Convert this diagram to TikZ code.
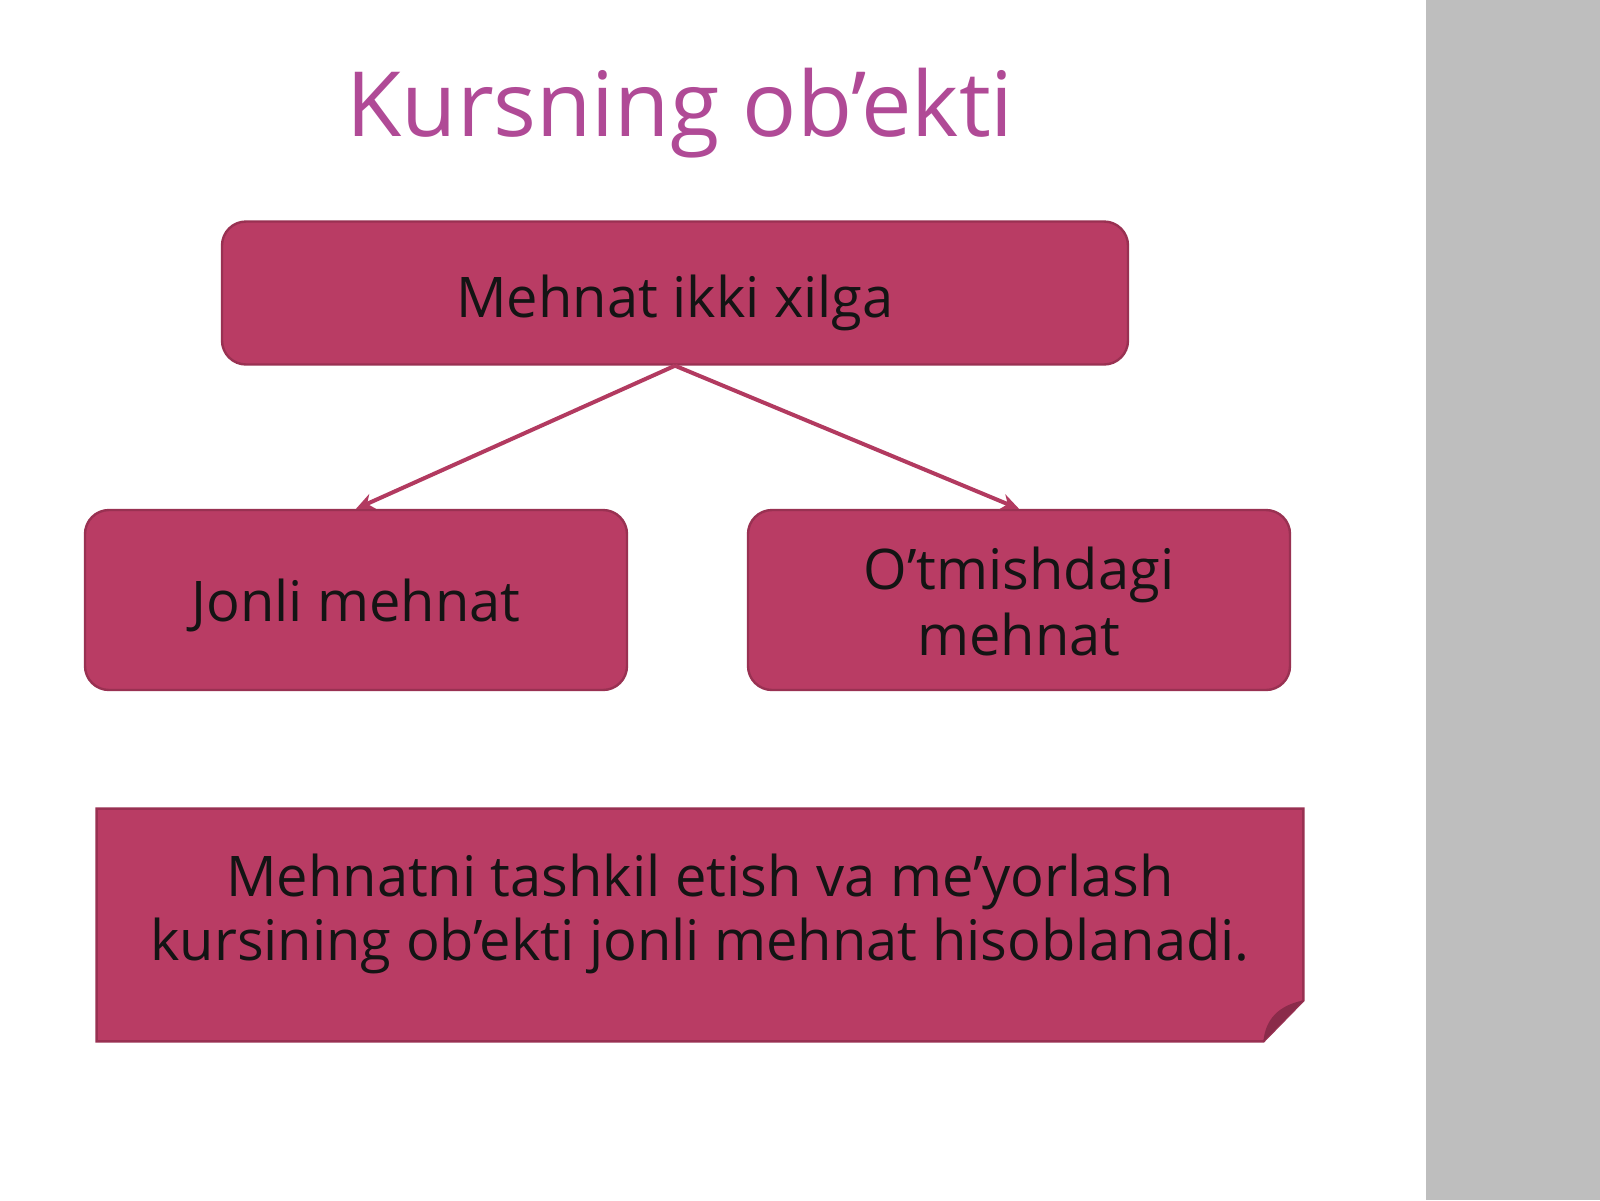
\documentclass[tikz,border=0pt]{standalone}
\usepackage{fontspec}
\setmainfont{Open Sans}
\usetikzlibrary{arrows.meta,calc}
\definecolor{boxfill}{HTML}{B93C64}
\definecolor{boxedge}{HTML}{993152}
\definecolor{flapc}{HTML}{8A2B4A}
\definecolor{titlec}{HTML}{B04A96}
\definecolor{band}{HTML}{BEBEBE}
\definecolor{arrowc}{HTML}{B23A60}
\definecolor{txt}{HTML}{141414}
\tikzset{
  rbox/.style={rectangle, rounded corners=12pt, fill=boxfill, draw=boxedge, line width=1.2pt},
  lbl/.style={text=txt, align=center, font=\fontsize{28}{33}\selectfont},
  link/.style={draw=arrowc, line width=2pt, -{Stealth[length=9pt,width=8pt]}},
}
\begin{document}
\begin{tikzpicture}[x=0.5pt,y=-0.5pt]
\useasboundingbox (0,0) rectangle (1600,1200);
\fill[white] (0,0) rectangle (1600,1200);
\fill[band] (1426,0) rectangle (1600,1200);

\node[anchor=base, text=titlec, font=\fontsize{45}{50}\selectfont] (title) at (680,136) {Kursning ob’ekti};

\node[rbox, minimum width=453pt, minimum height=71.5pt] (top) at (675,293) {};
\node[rbox, minimum width=271pt, minimum height=90pt] (left) at (356,600) {};
\node[rbox, minimum width=271pt, minimum height=90pt] (right) at (1019,600) {};
\node[lbl] (toptext) at ($(top.center)+(0,10)$) {Mehnat ikki xilga};
\node[lbl] (lefttext) at ($(left.center)+(0,5)$) {Jonli mehnat};
\node[lbl] (righttext) at ($(right.center)+(0,1)$) {O’tmishdagi\\mehnat};

\draw[link] (top.south) -- (left.north);
\draw[link] (top.south) -- (right.north);

\node[minimum width=603pt, minimum height=116pt, inner sep=0pt] (note) at (700,925) {};
\fill[boxfill, draw=boxedge, line width=1.2pt]
  (note.north west) -- (note.north east) -- ($(note.south east)+(0,-41)$)
  -- ($(note.south east)+(-40,0)$) -- (note.south west) -- cycle;
\fill[flapc] ($(note.south east)+(-40,0)$) .. controls ($(note.south east)+(-38,-22)$) and ($(note.south east)+(-25,-36)$) .. ($(note.south east)+(0,-41)$) -- cycle;
\node[lbl, font=\fontsize{28}{32}\selectfont] (notetext) at ($(note.center)+(0,-11)$) {Mehnatni tashkil etish va me’yorlash\\kursining ob’ekti jonli mehnat hisoblanadi.};
\end{tikzpicture}
\end{document}
